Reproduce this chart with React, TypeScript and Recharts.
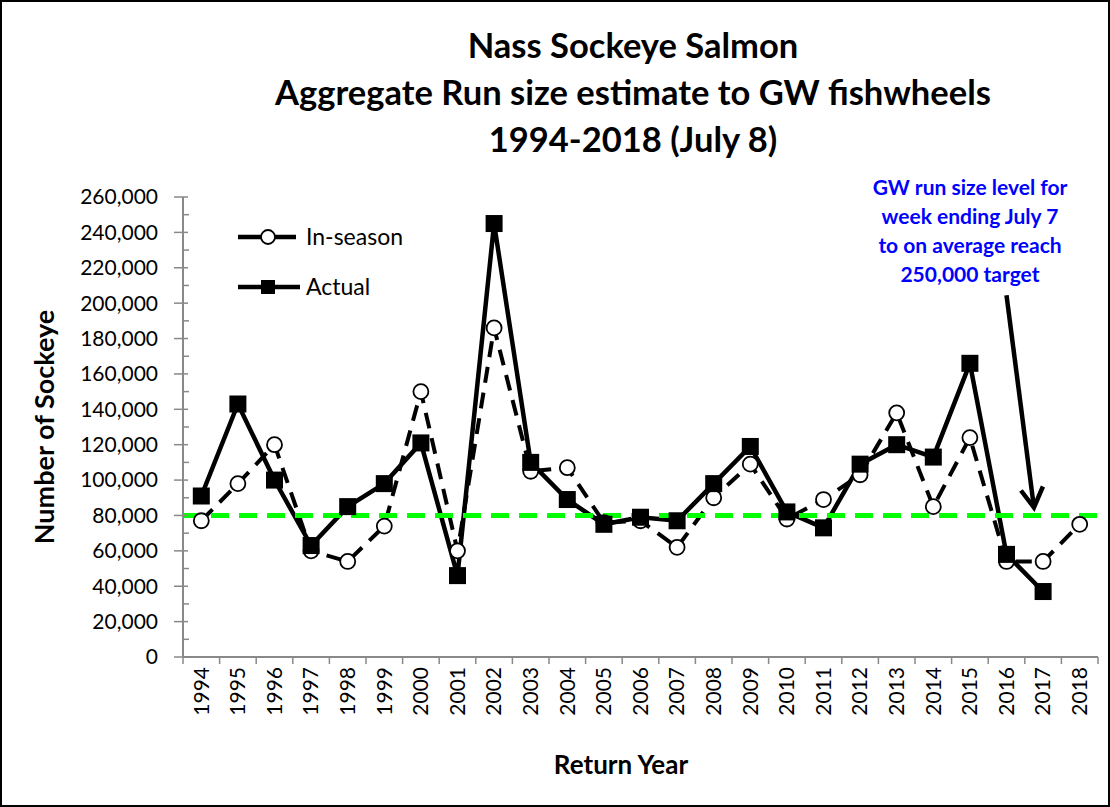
import React from 'react';
import { LineChart, Line, XAxis, YAxis, ReferenceLine } from 'recharts';

// ** Data
const years = [
  '1994', '1995', '1996', '1997', '1998', '1999', '2000', '2001', '2002', '2003', '2004', '2005', '2006',
  '2007', '2008', '2009', '2010', '2011', '2012', '2013', '2014', '2015', '2016', '2017', '2018',
];
const inSeason = [
  77000, 98000, 120000, 60000, 54000, 74000, 150000, 60000, 186000, 105000, 107000, 76000, 77000,
  62000, 90000, 109000, 78000, 89000, 103000, 138000, 85000, 124000, 54000, 54000, 75000,
];
const actual: (number | null)[] = [
  91000, 143000, 100000, 63000, 85000, 98000, 121000, 46000, 245000, 110000, 89000, 75000, 79000,
  77000, 98000, 119000, 82000, 73000, 109000, 120000, 113000, 166000, 58000, 37000, null,
];
const yTicks = Array.from({ length: 27 }, (_, i) => i * 10000);
const targetLevel = 80000;
const titleLines = ['Nass Sockeye Salmon', 'Aggregate Run size estimate to GW fishwheels', '1994-2018 (July 8)'];
const noteLines = ['GW run size level for', 'week ending July 7', 'to on average reach', '250,000 target'];

const data = years.map((year, i) => ({ year, inSeason: inSeason[i], actual: actual[i] }));

// ** Layout
const W = 1110;
const H = 807;
const PLOT_L = 183;
const PLOT_R = 1098;
const PLOT_T = 197;
const PLOT_B = 657;
const X_AXIS_H = 80;
const BAND = (PLOT_R - PLOT_L) / years.length;
const Y_MAX = 260000;
const FONT = 'Lato, "Open Sans", sans-serif';
const AXIS_GRAY = '#898989';

// pixel helpers for the annotation arrow only
const xAt = (idx: number) => PLOT_L + BAND / 2 + idx * BAND;
const yAt = (v: number) => PLOT_B - (v / Y_MAX) * (PLOT_B - PLOT_T);

const YTick = (props: any) => {
  const { y, payload } = props;
  const major = payload.value % 20000 === 0;
  if (!major) {
    return <line x1={PLOT_L} x2={PLOT_L + 6} y1={y} y2={y} stroke={AXIS_GRAY} strokeWidth={1.5} />;
  }
  return (
    <g>
      <line x1={PLOT_L - 9} x2={PLOT_L + 5} y1={y} y2={y} stroke={AXIS_GRAY} strokeWidth={1.5} />
      <text x={PLOT_L - 25} y={y} dy="0.35em" textAnchor="end" fontFamily={FONT} fontSize={21} fill="#000">
        {payload.value.toLocaleString('en-US')}
      </text>
    </g>
  );
};

const XTick = (props: any) => {
  const { x, payload, index } = props;
  const last = index === years.length - 1;
  return (
    <g>
      <line x1={x - BAND / 2} x2={x - BAND / 2} y1={PLOT_B} y2={PLOT_B + 7} stroke={AXIS_GRAY} strokeWidth={1.5} />
      {last && (
        <line x1={x + BAND / 2} x2={x + BAND / 2} y1={PLOT_B} y2={PLOT_B + 7} stroke={AXIS_GRAY} strokeWidth={1.5} />
      )}
      <text
        transform={`translate(${x},${PLOT_B + 10}) rotate(-90)`}
        dy="0.35em"
        textAnchor="end"
        fontFamily={FONT}
        fontSize={21}
        fill="#000"
      >
        {payload.value}
      </text>
    </g>
  );
};

const SquareDot = (props: any) => {
  const { cx, cy, index } = props;
  if (cx == null || cy == null || actual[index] == null) return <g key={`s${index}`} />;
  return <rect key={`s${index}`} x={cx - 8.5} y={cy - 8.5} width={17} height={17} fill="#000" />;
};

const CircleDot = (props: any) => {
  const { cx, cy, index } = props;
  return <circle key={`c${index}`} cx={cx} cy={cy} r={7.5} fill="#fff" stroke="#000" strokeWidth={1.8} />;
};

export default function App() {
  const arrowTop = { x: xAt(22), y: yAt(204500) };
  const arrowTip = { x: xAt(22.75), y: yAt(84500) };
  return (
    <div style={{ position: 'absolute', left: 0, top: 0, width: W, height: H, background: '#fff' }}>
      <LineChart
        width={W}
        height={H}
        data={data}
        margin={{ top: PLOT_T, right: W - PLOT_R, bottom: H - PLOT_B - X_AXIS_H, left: 0 }}
      >
        <XAxis
          dataKey="year"
          height={X_AXIS_H}
          padding={{ left: BAND / 2, right: BAND / 2 }}
          axisLine={{ stroke: AXIS_GRAY, strokeWidth: 2 }}
          tickLine={false}
          tick={<XTick />}
          interval={0}
        />
        <YAxis
          width={PLOT_L}
          domain={[0, Y_MAX]}
          ticks={yTicks}
          interval={0}
          axisLine={{ stroke: AXIS_GRAY, strokeWidth: 2 }}
          tickLine={false}
          tick={<YTick />}
        />
        <Line
          dataKey="inSeason"
          stroke="#000"
          strokeWidth={4}
          strokeDasharray="16 10"
          dot={<CircleDot />}
          isAnimationActive={false}
        />
        <Line
          dataKey="actual"
          stroke="#000"
          strokeWidth={4.5}
          dot={<SquareDot />}
          connectNulls={false}
          isAnimationActive={false}
        />
        <ReferenceLine y={targetLevel} stroke="#00ff00" strokeWidth={5} strokeDasharray="18 10" />
      </LineChart>

      <svg width={W} height={H} style={{ position: 'absolute', left: 0, top: 0, pointerEvents: 'none' }}>
        <rect x={1} y={1} width={W - 2} height={H - 2} fill="none" stroke="#000" strokeWidth={2} />
        {titleLines.map((t, i) => (
          <text key={t} x={633} y={58 + i * 47} textAnchor="middle" fontFamily={FONT} fontWeight="bold" fontSize={34.5}>
            {t}
          </text>
        ))}

        {/* legend */}
        <g fontFamily={FONT} fontSize={23} fill="#000">
          <line x1={238} x2={296} y1={237} y2={237} stroke="#000" strokeWidth={4.5} />
          <circle cx={268} cy={237} r={7} fill="#fff" stroke="#000" strokeWidth={1.8} />
          <text x={306} y={237} dy="0.35em">In-season</text>
          <line x1={238} x2={300} y1={287} y2={287} stroke="#000" strokeWidth={4.5} />
          <rect x={261} y={280} width={14} height={14} fill="#000" />
          <text x={306} y={287} dy="0.35em">Actual</text>
        </g>

        <text x={621} y={774} textAnchor="middle" fontFamily={FONT} fontWeight="bold" fontSize={26}>
          Return Year
        </text>
        <text
          transform={`translate(54,${(PLOT_T + PLOT_B) / 2}) rotate(-90)`}
          textAnchor="middle"
          fontFamily={FONT}
          fontWeight="bold"
          fontSize={27}
        >
          Number of Sockeye
        </text>
        {noteLines.map((t, i) => (
          <text key={t} x={970} y={195 + i * 29} textAnchor="middle" fontFamily={FONT} fontWeight="bold" fontSize={21} fill="#0000ff">
            {t}
          </text>
        ))}
        <line x1={arrowTop.x} y1={arrowTop.y} x2={arrowTip.x} y2={arrowTip.y} stroke="#000" strokeWidth={4.5} />
        <polyline
          points={`${arrowTip.x - 13},${arrowTip.y - 17} ${arrowTip.x},${arrowTip.y} ${arrowTip.x + 9},${arrowTip.y - 21}`}
          fill="none"
          stroke="#000"
          strokeWidth={4.5}
          strokeLinejoin="miter"
        />
      </svg>
    </div>
  );
}
